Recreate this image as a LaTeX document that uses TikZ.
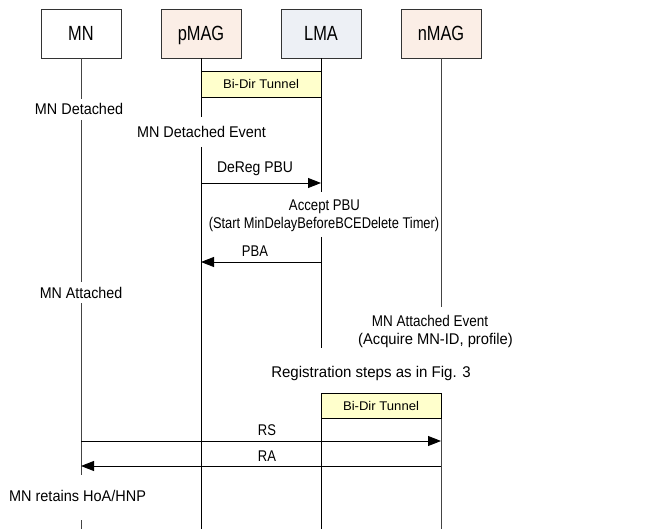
\documentclass[tikz,border=0pt]{standalone}
\usepackage{fontspec}
\setmainfont{Liberation Sans}
\usetikzlibrary{arrows.meta}
\definecolor{peach}{HTML}{FBEEE6}
\definecolor{bluegray}{HTML}{EDF0F5}
\definecolor{tunnelyellow}{HTML}{FFFFCC}
\definecolor{framegray}{HTML}{333333}
\definecolor{lifegray}{HTML}{444444}
\newcommand{\hsq}[2]{\scalebox{#1}[1]{#2}}
\tikzset{
  actor/.style={draw=framegray, line width=0.8pt, minimum width=80pt, minimum height=49pt, inner sep=0pt, text height=14.5pt, text depth=0pt, font=\fontsize{20.5}{22}\selectfont},
  tunnelbox/.style={draw=black, fill=tunnelyellow, line width=0.8pt, minimum width=120pt, minimum height=25.5pt, inner sep=0pt, text height=9pt, text depth=0pt, font=\fontsize{12.6}{14}\selectfont},
  lbl/.style={inner sep=0pt, anchor=base, font=\fontsize{15.5}{17}\selectfont},
  life/.style={line width=0.9pt, black},
  lifeg/.style={line width=0.9pt, lifegray},
  msg/.style={line width=0.9pt, -{Triangle[length=13pt,width=10pt]}}
}
\begin{document}
\begin{tikzpicture}[x=1pt,y=-1pt]
\useasboundingbox (0,0) rectangle (650,529);
% actors
\node[actor, fill=white] (mn) at (81,33.5) {\hsq{0.8}{MN}};
\node[actor, fill=peach] (pmag) at (201,33.5) {\hsq{0.8}{pMAG}};
\node[actor, fill=bluegray] (lma) at (321,33.5) {\hsq{0.8}{LMA}};
\node[actor, fill=peach] (nmag) at (441,33.5) {\hsq{0.8}{nMAG}};
% lifelines
\draw[lifeg] (mn.south) -- (mn.south |- 0,99);
\draw[lifeg] (mn.south |- 0,120) -- (mn.south |- 0,282);
\draw[lifeg] (mn.south |- 0,303) -- (mn.south |- 0,475);
\draw[lifeg] (mn.south |- 0,520) -- (mn.south |- 0,529);
\draw[life] (pmag.south) -- (pmag.south |- 0,117);
\draw[life] (pmag.south |- 0,147) -- (pmag.south |- 0,529);
\draw[life] (lma.south) -- (lma.south |- 0,192);
\draw[life] (lma.south |- 0,237) -- (lma.south |- 0,348);
\draw[life] (lma.south |- 0,410) -- (lma.south |- 0,529);
\draw[lifeg] (nmag.south) -- (nmag.south |- 0,307);
\draw[lifeg] (nmag.south |- 0,410) -- (nmag.south |- 0,529);
% tunnels
\node[tunnelbox] (t1) at (261,84.5) {\hsq{1.04}{Bi-Dir Tunnel}};
\node[tunnelbox] (t2) at (381,406) {\hsq{1.04}{Bi-Dir Tunnel}};
% texts
\node[lbl] (mndet) at (79,114.5) {\hsq{0.93}{MN Detached}};
\node[lbl] (mndetev) at (201.5,138) {\hsq{0.93}{MN Detached Event}};
\node[lbl] (dereg) at (255,173) {\hsq{0.9}{DeReg PBU}};
\node[lbl] (acc1) at (324.5,211) {\hsq{0.85}{Accept PBU}};
\node[lbl] (acc2) at (324,228.3) {\hsq{0.83}{(Start MinDelayBeforeBCEDelete Timer)}};
\node[lbl] (pba) at (255,256) {\hsq{0.84}{PBA}};
\node[lbl] (mnatt) at (81,298) {\hsq{0.92}{MN Attached}};
\node[lbl] (attev1) at (430,326) {\hsq{0.87}{MN Attached Event}};
\node[lbl] (attev2) at (435.5,344) {\hsq{0.95}{(Acquire MN-ID, profile)}};
\node[lbl] (reg) at (371,377) {\hsq{0.97}{Registration steps as in Fig. 3}};
\node[lbl] (rs) at (267,435.7) {\hsq{0.84}{RS}};
\node[lbl] (ra) at (267,461.7) {\hsq{0.84}{RA}};
\node[lbl] (ret) at (77.5,501.7) {\hsq{0.935}{MN retains HoA/HNP}};
% messages
\draw[msg] (pmag.south |- 0,183) -- (lma.south |- 0,183);
\draw[msg] (lma.south |- 0,262) -- (pmag.south |- 0,262);
\draw[msg] (mn.south |- 0,441) -- (nmag.south |- 0,441);
\draw[msg] (nmag.south |- 0,466) -- (mn.south |- 0,466);
\end{tikzpicture}
\end{document}
